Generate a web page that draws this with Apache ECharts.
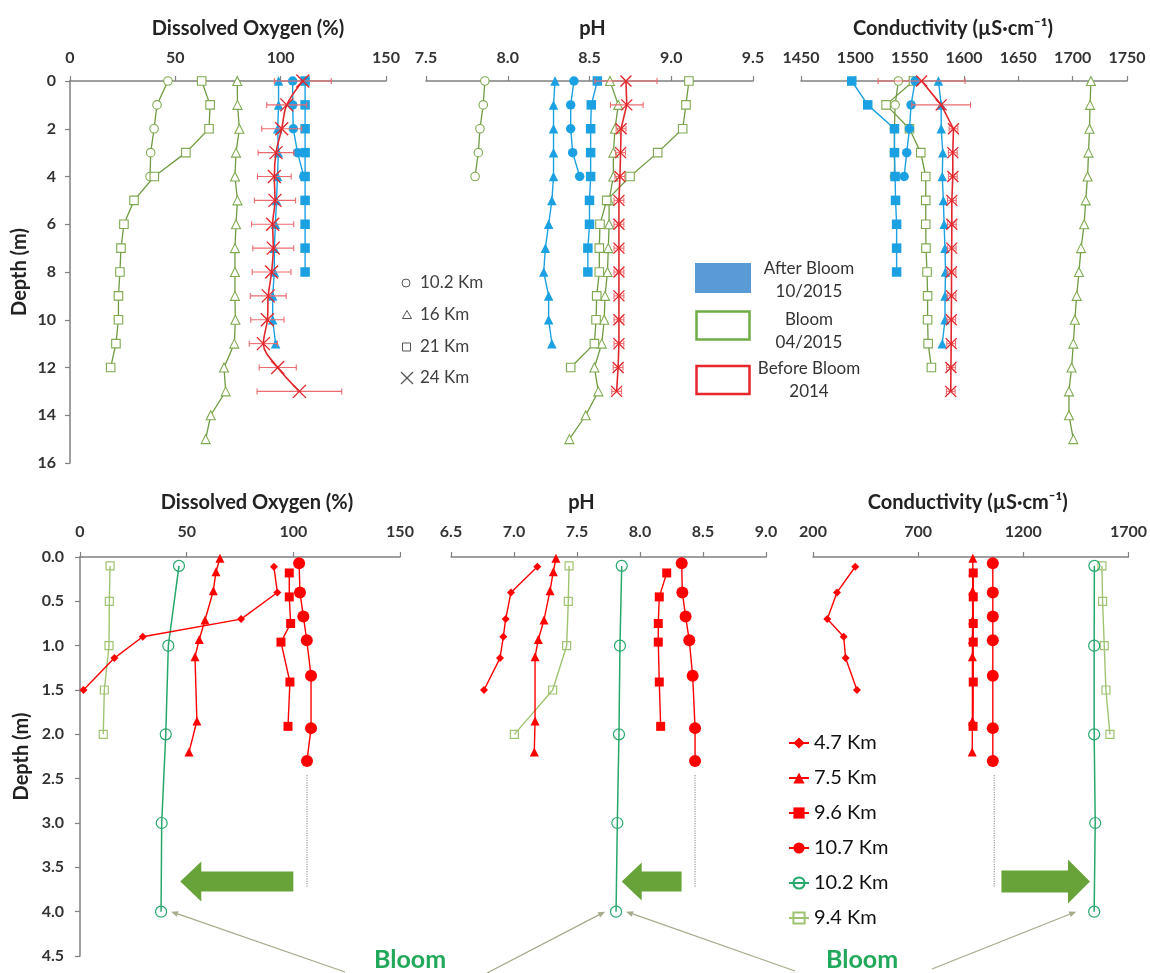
<!DOCTYPE html>
<html><head><meta charset="utf-8">
<script src="https://cdn.jsdelivr.net/npm/echarts@6/dist/echarts.min.js"></script>
<style>html,body{margin:0;padding:0;background:#fff}#c{width:1150px;height:973px}</style>
</head><body><div id="c"></div><script>
// ---------- DATA ----------
const topDepth = [0,1,2,3,4,5,6,7,8,9,10,11,12,13,14,15];
const topDepthTicks = [0,2,4,6,8,10,12,14,16];
// Top: Dissolved Oxygen (%)
const doBloom10 = [46.5, 41.3, 39.9, 38.3, 38.0];
const doBloom16 = [79.4, 79.5, 80.4, 78.8, 78.3, 79.5, 78.8, 78.3, 78.3, 78.3, 78.5, 78.0, 73.1, 73.9, 66.8, 64.4];
const doBloom21 = [62.5, 66.5, 66.0, 55.0, 40.0, 30.4, 25.6, 24.2, 23.7, 23.0, 23.0, 21.8, 19.3];
const doAfter10 = [105.7, 105.7, 106.0, 108.0, 111.0];
const doAfter16 = [99.0, 99.0, 98.6, 98.9, 98.5, 98.0, 97.5, 97.0, 97.0, 96.2, 96.2, 97.6];
const doAfter21 = [111.6, 111.6, 111.6, 111.6, 111.6, 111.6, 111.6, 111.6, 111.6];
const doBefore24 = [110.5, 102.9, 100.5, 97.8, 97.0, 97.3, 96.2, 96.5, 95.7, 94.1, 93.7, 91.8, 98.6, 108.9];
const doBefore24Err = [13.5, 9.5, 9.5, 8.5, 8.0, 9.8, 10.0, 9.7, 9.2, 8.5, 7.9, 6.7, 8.8, 20.1];
// Top: pH
const phBloom10 = [7.86, 7.85, 7.83, 7.82, 7.80];
const phBloom16 = [8.625, 8.676, 8.656, 8.646, 8.646, 8.62, 8.62, 8.615, 8.61, 8.595, 8.59, 8.575, 8.53, 8.554, 8.477, 8.377];
const phBloom21 = [9.108, 9.09, 9.07, 8.917, 8.748, 8.605, 8.564, 8.56, 8.56, 8.544, 8.54, 8.53, 8.385];
const phAfter10 = [8.405, 8.385, 8.385, 8.397, 8.44];
const phAfter16 = [8.289, 8.28, 8.28, 8.28, 8.28, 8.27, 8.25, 8.23, 8.22, 8.25, 8.25, 8.27];
const phAfter21 = [8.548, 8.511, 8.507, 8.507, 8.507, 8.50, 8.50, 8.49, 8.49];
const phBefore24 = [8.723, 8.728, 8.693, 8.69, 8.686, 8.68, 8.68, 8.68, 8.68, 8.68, 8.68, 8.68, 8.675, 8.666];
const phBefore24Err = [0.19, 0.10, 0.03, 0.03, 0.03, 0.03, 0.03, 0.03, 0.03, 0.03, 0.03, 0.03, 0.03, 0.03];
// Top: Conductivity
const cdBloom10 = [1539.6, 1536.6, 1536, 1536, 1536];
const cdBloom16 = [1716.8, 1716, 1715.5, 1714.6, 1713.7, 1712, 1710.6, 1707.7, 1705.8, 1703.7, 1702, 1700.6, 1699, 1696.6, 1696.6, 1700.6];
const cdBloom21 = [1553.5, 1528.3, 1549.8, 1560.2, 1564.8, 1564.8, 1564.8, 1565, 1566, 1566.5, 1566.5, 1567, 1570];
const cdAfter10 = [1555, 1551.3, 1549.8, 1547.3, 1544.9];
const cdAfter16 = [1576.5, 1579, 1579, 1580.5, 1580, 1581, 1581.7, 1582.5, 1583, 1582.5, 1582.5, 1580];
const cdAfter21 = [1496.7, 1511.4, 1536, 1536, 1536.6, 1537, 1538, 1538, 1538];
const cdBefore24 = [1561, 1579, 1590.3, 1589.7, 1589.7, 1588.8, 1588.8, 1588.7, 1588.5, 1588.5, 1588.3, 1588.2, 1588, 1587.8];
const cdBefore24Err = [40, 27, 4, 4, 4, 4, 4, 4, 4, 4, 4, 4, 4, 4];
// Bottom profiles: depths per station
const dep47 = [0.11, 0.40, 0.70, 0.90, 1.14, 1.50];
const dep75 = [0.015, 0.166, 0.38, 0.71, 0.93, 1.125, 1.85, 2.2];
const dep96 = [0.18, 0.45, 0.75, 0.96, 1.41, 1.91];
const dep107 = [0.07, 0.40, 0.67, 0.94, 1.34, 1.93, 2.30];
const dep102 = [0.1, 1, 2, 3, 4];
const dep94 = [0.1, 0.5, 1.0, 1.5, 2.0];
const do47 = [90.9, 92.5, 75.5, 29.4, 16.1, 1.6];
const do75 = [65.6, 63.75, 62.5, 58.6, 55.9, 53.9, 54.8, 51.1];
const do96 = [98.1, 98.1, 98.75, 94.2, 98.4, 97.5];
const do107 = [102.7, 103.1, 104.7, 106.3, 108.3, 108.3, 106.4];
const do102 = [46.4, 41.4, 40.2, 38.3, 38.0];
const do94 = [14.1, 13.75, 13.6, 11.4, 10.9];
const ph47 = [7.185, 6.976, 6.934, 6.915, 6.889, 6.762];
const ph75 = [7.333, 7.312, 7.286, 7.238, 7.193, 7.167, 7.167, 7.161];
const ph96 = [8.212, 8.153, 8.145, 8.145, 8.153, 8.164];
const ph107 = [8.331, 8.336, 8.362, 8.391, 8.418, 8.437, 8.437];
const ph102 = [7.855, 7.841, 7.833, 7.82, 7.81];
const ph94 = [7.437, 7.431, 7.418, 7.307, 7.003];
const cd47 = [401, 314, 268, 346, 355, 409];
const cd75 = [960, 960, 959, 959, 958, 958, 958, 957];
const cd96 = [962, 962, 962, 962, 962, 961];
const cd107 = [1055, 1055, 1055, 1055, 1055, 1055, 1055];
const cd102 = [1538, 1537, 1537, 1542, 1537];
const cd94 = [1574, 1577, 1585, 1593, 1612];
// dotted guide lines (bottom panels)
const dotDepth = [2.46, 3.72];
const dotX = [106.4, 8.437, 1062];
// green arrows (bottom panels): [tail, tip] in data units, depth
const arrowDO = [100, 47];
const arrowPH = [8.33, 7.855];
const arrowCD = [1096, 1517];
const arrowDepth = 3.66;
const condTicksBottom = [200, 700, 1200, 1700];
const bottomLegend = ['4.7 Km', '7.5 Km', '9.6 Km', '10.7 Km', '10.2 Km', '9.4 Km'];

// ---------- STYLE ----------
const FONT = 'Lato, "Open Sans", sans-serif';
const BLUE = '#1ba1e2', GREEN = '#6f9c42', GREENM = '#7faa50', RED = '#e3262b', REDERR = '#ee6a6e';
const BRED = '#ff0000', BGREEN = '#26a86b', BLGREEN = '#9fc471';
const AXC = '#808080';

const grids = [
  {left: 70, top: 81, width: 316, height: 382},
  {left: 426, top: 81, width: 327, height: 382},
  {left: 801, top: 81, width: 326, height: 382},
  {left: 80, top: 557, width: 320, height: 399},
  {left: 451, top: 557, width: 315, height: 399},
  {left: 813, top: 557, width: 316, height: 399}
];

function xAx(i, name, min, max, interval, fmt, gap, pad, extraLabel, extraTick) {
  return {
    gridIndex: i, type: 'value', position: 'top', min, max, interval,
    name, nameLocation: 'middle', nameGap: gap,
    nameTextStyle: {fontFamily: FONT, fontWeight: 'bold', fontSize: 20, color: '#222', padding: pad},
    axisLine: {show: true, onZero: false, lineStyle: {color: AXC, width: 1.5}},
    axisTick: Object.assign({show: true, length: 5, lineStyle: {color: AXC, width: 1.2}}, extraTick || {}),
    axisLabel: Object.assign({fontFamily: FONT, fontWeight: 'bold', fontSize: 16, color: '#333', margin: i < 3 ? 15 : 17, formatter: fmt}, extraLabel || {}),
    splitLine: {show: false}
  };
}
function yAx(i, max, interval, show, fmt, gap, margin) {
  return {
    gridIndex: i, type: 'value', inverse: true, min: 0, max, interval, show,
    name: show ? 'Depth (m)' : '', nameLocation: 'middle', nameGap: gap, nameRotate: 90,
    nameTextStyle: {fontFamily: FONT, fontWeight: 'bold', fontSize: 20, color: '#222'},
    axisLine: {show: true, onZero: false, lineStyle: {color: AXC, width: 1.5}},
    axisTick: {show: true, length: 5, lineStyle: {color: AXC, width: 1.2}},
    axisLabel: {fontFamily: FONT, fontWeight: 'bold', fontSize: 16, color: '#333', margin, formatter: fmt},
    splitLine: {show: false}
  };
}
const f0 = v => String(v);
const f1 = v => v.toFixed(1);

function ln(name, gi, xs, ys, o) {
  return {
    type: 'line', name, xAxisIndex: gi, yAxisIndex: gi, silent: true, animation: false,
    data: xs.map((v, k) => [v, ys[k]]),
    symbol: o.symbol || 'none', symbolSize: o.size || 8, showSymbol: !!o.symbol,
    smooth: o.smooth || false,
    lineStyle: {color: o.line, width: o.lw || 1.3, type: o.type || 'solid'},
    itemStyle: {color: o.fill || o.line, borderColor: o.border || o.line, borderWidth: o.bw || 0},
    z: o.z || 2
  };
}
function errSeries(gi, xs, errs, s) {
  return {
    type: 'custom', name: 'err' + gi, xAxisIndex: gi, yAxisIndex: gi, silent: true, animation: false, z: 5,
    data: xs.map((v, k) => [v, topDepth[k], errs[k]]),
    encode: {x: 0, y: 1},
    renderItem: (params, api) => {
      const x = api.value(0), y = api.value(1), e = api.value(2);
      const c = api.coord([x, y]), l = api.coord([x - e, y]), r = api.coord([x + e, y]);
      const st = {stroke: REDERR, lineWidth: 1.1};
      const mk = {stroke: RED, lineWidth: 1.4};
      return {type: 'group', children: [
        {type: 'line', shape: {x1: l[0], y1: c[1], x2: r[0], y2: c[1]}, style: st},
        {type: 'line', shape: {x1: l[0], y1: c[1] - 3, x2: l[0], y2: c[1] + 3}, style: st},
        {type: 'line', shape: {x1: r[0], y1: c[1] - 3, x2: r[0], y2: c[1] + 3}, style: st},
        {type: 'line', shape: {x1: c[0] - s, y1: c[1] - s, x2: c[0] + s, y2: c[1] + s}, style: mk},
        {type: 'line', shape: {x1: c[0] - s, y1: c[1] + s, x2: c[0] + s, y2: c[1] - s}, style: mk}
      ]};
    }
  };
}
const td = n => topDepth.slice(0, n);

function topSeries(gi, b10, b16, b21, a10, a16, a21, r24, r24e, smoothRed, xs) {
  const hollow = {fill: '#fff', border: GREENM, bw: 1.1, line: GREEN};
  return [
    ln('B10-' + gi, gi, b10, td(b10.length), Object.assign({symbol: 'circle', size: 8.5}, hollow)),
    ln('B16-' + gi, gi, b16, td(b16.length), Object.assign({symbol: 'triangle', size: 9}, hollow)),
    ln('B21-' + gi, gi, b21, td(b21.length), Object.assign({symbol: 'rect', size: 8.5}, hollow)),
    ln('A10-' + gi, gi, a10, td(a10.length), {symbol: 'circle', size: 9.5, line: BLUE, lw: 1.4, z: 3}),
    ln('A16-' + gi, gi, a16, td(a16.length), {symbol: 'triangle', size: 9.5, line: BLUE, lw: 1.4, z: 3}),
    ln('A21-' + gi, gi, a21, td(a21.length), {symbol: 'rect', size: 9.5, line: BLUE, lw: 1.4, z: 3}),
    ln('R24-' + gi, gi, r24, td(r24.length), {line: RED, lw: 1.6, smooth: smoothRed, z: 4}),
    errSeries(gi, r24, r24e, xs)
  ];
}
function bottomSeries(gi, v47, v75, v96, v107, v102, v94, dx) {
  return [
    ln('9.4 Km', gi, v94, dep94, {symbol: 'rect', size: 8, fill: 'rgba(255,255,255,0)', border: BLGREEN, bw: 1.2, line: BLGREEN, lw: 1.4}),
    ln('10.2 Km', gi, v102, dep102, {symbol: 'circle', size: 11, fill: 'rgba(255,255,255,0)', border: BGREEN, bw: 1.2, line: BGREEN, lw: 1.5}),
    ln('4.7 Km', gi, v47, dep47, {symbol: 'diamond', size: 8, line: BRED, lw: 1.4, z: 3}),
    ln('7.5 Km', gi, v75, dep75, {symbol: 'triangle', size: 9, line: BRED, lw: 1.4, z: 3}),
    ln('9.6 Km', gi, v96, dep96, {symbol: 'rect', size: 9, line: BRED, lw: 1.4, z: 3}),
    ln('10.7 Km', gi, v107, dep107, {symbol: 'circle', size: 12, line: BRED, lw: 1.4, z: 3}),
    ln('dot' + gi, gi, [dx, dx], dotDepth, {line: '#9a9a9a', lw: 1.2, type: 'dotted'})
  ];
}

const series = [].concat(
  topSeries(0, doBloom10, doBloom16, doBloom21, doAfter10, doAfter16, doAfter21, doBefore24, doBefore24Err, 0.35, 6.5),
  topSeries(1, phBloom10, phBloom16, phBloom21, phAfter10, phAfter16, phAfter21, phBefore24, phBefore24Err, false, 5.5),
  topSeries(2, cdBloom10, cdBloom16, cdBloom21, cdAfter10, cdAfter16, cdAfter21, cdBefore24, cdBefore24Err, false, 5.5),
  bottomSeries(3, do47, do75, do96, do107, do102, do94, dotX[0]),
  bottomSeries(4, ph47, ph75, ph96, ph107, ph102, ph94, dotX[1]),
  bottomSeries(5, cd47, cd75, cd96, cd107, cd102, cd94, dotX[2])
);

const option = {
  backgroundColor: '#fff',
  animation: false,
  grid: grids,
  xAxis: [
    xAx(0, 'Dissolved Oxygen (%)', 0, 150, 50, f0, 42, [0, 0, 0, 40]),
    xAx(1, 'pH', 7.5, 9.5, 0.5, f1, 42, [0, 0, 0, 6]),
    xAx(2, 'Conductivity (µS·cm⁻¹)', 1450, 1750, 50, f0, 42, [0, 22, 0, 0]),
    xAx(3, 'Dissolved Oxygen (%)', 0, 150, 50, f0, 44, [0, 0, 0, 34]),
    xAx(4, 'pH', 6.5, 9.0, 0.5, f1, 44, [0, 54, 0, 0]),
    xAx(5, 'Conductivity (µS·cm⁻¹)', 200, 1700, null, f0, 44, [0, 6, 0, 0],
        {customValues: condTicksBottom}, {customValues: condTicksBottom})
  ],
  yAxis: [
    yAx(0, 16, 2, true, f0, 40, 14),
    yAx(1, 16, 2, false, f0, 40, 14),
    yAx(2, 16, 2, false, f0, 40, 14),
    yAx(3, 4.5, 0.5, true, f1, 48, 16),
    yAx(4, 4.5, 0.5, false, f1, 40, 16),
    yAx(5, 4.5, 0.5, false, f1, 40, 16)
  ],
  legend: {
    data: bottomLegend, orient: 'vertical', left: 783, top: 728,
    itemWidth: 20, itemHeight: 14, itemGap: 15, selectedMode: false,
    textStyle: {fontFamily: FONT, fontSize: 20, color: '#111'}
  },
  series
};
const xa = option.xAxis[5]; delete xa.interval;

const chart = echarts.init(document.getElementById('c'), null, {renderer: 'canvas'});
chart.setOption(option);

// ---------- ANNOTATIONS ----------
const P = (gi, x, y) => chart.convertToPixel({xAxisIndex: gi, yAxisIndex: gi}, [x, y]);
function bigArrow(id, gi, tail, tip, bh, hh, hl) {
  const a = P(gi, tail, arrowDepth), b = P(gi, tip, arrowDepth);
  const cy = a[1], t = a[0], p = b[0], d = p < t ? 1 : -1;
  const hb = p + d * hl;
  return {type: 'polygon', id, silent: true, z: 10,
    shape: {points: [[t, cy - bh], [hb, cy - bh], [hb, cy - hh], [p, cy], [hb, cy + hh], [hb, cy + bh], [t, cy + bh]]},
    style: {fill: '#68a33a'}};
}
function pointer(id, sx, sy, ex, ey) {
  const ang = Math.atan2(ey - sy, ex - sx), L = 7, W = 3;
  const bx = ex - L * Math.cos(ang), by = ey - L * Math.sin(ang);
  const nx = -Math.sin(ang) * W, ny = Math.cos(ang) * W;
  return [
    {type: 'line', id: id + 'l', silent: true, z: 9, shape: {x1: sx, y1: sy, x2: bx, y2: by}, style: {stroke: '#a7ab8c', lineWidth: 1.3}},
    {type: 'polygon', id: id + 'h', silent: true, z: 9, shape: {points: [[ex, ey], [bx + nx, by + ny], [bx - nx, by - ny]]}, style: {fill: '#a7ab8c'}}
  ];
}
const cDO = P(3, do102[4], dep102[4]);
const cPH = P(4, ph102[4], dep102[4]);
const cCD = P(5, cd102[4], dep102[4]);

const TXT = {fontFamily: FONT, fontSize: 17, fill: '#404040'};
const graphics = [
  bigArrow('arDO', 3, arrowDO[0], arrowDO[1], 10, 20, 21),
  bigArrow('arPH', 4, arrowPH[0], arrowPH[1], 10, 19, 20),
  bigArrow('arCD', 5, arrowCD[0], arrowCD[1], 11, 22, 22),
  ...pointer('p1', 345, 972, cDO[0] + 10, cDO[1]),
  ...pointer('p2', 487, 973, cPH[0] - 11, cPH[1]),
  ...pointer('p3', 795, 971, cPH[0] + 10, cPH[1]),
  ...pointer('p4', 932, 969, cCD[0] - 18, cCD[1]),
  {type: 'text', id: 'bl1', silent: true, x: 410, y: 960, style: {text: 'Bloom', fontFamily: FONT, fontWeight: 'bold', fontSize: 25, fill: '#21a85a', align: 'center', verticalAlign: 'middle'}},
  {type: 'text', id: 'bl2', silent: true, x: 862, y: 960, style: {text: 'Bloom', fontFamily: FONT, fontWeight: 'bold', fontSize: 25, fill: '#21a85a', align: 'center', verticalAlign: 'middle'}},
  // station symbol legend (top)
  {type: 'circle', id: 'ls1', silent: true, shape: {cx: 406, cy: 283, r: 4}, style: {fill: 'none', stroke: '#555', lineWidth: 1}},
  {type: 'polygon', id: 'ls2', silent: true, shape: {points: [[407, 310.5], [411.5, 318.5], [402.5, 318.5]]}, style: {fill: 'none', stroke: '#555', lineWidth: 1}},
  {type: 'rect', id: 'ls3', silent: true, shape: {x: 402.5, y: 343, width: 8, height: 8}, style: {fill: 'none', stroke: '#555', lineWidth: 1}},
  {type: 'line', id: 'ls4a', silent: true, shape: {x1: 401, y1: 372, x2: 413, y2: 384}, style: {stroke: '#555', lineWidth: 1.2}},
  {type: 'line', id: 'ls4b', silent: true, shape: {x1: 401, y1: 384, x2: 413, y2: 372}, style: {stroke: '#555', lineWidth: 1.2}},
  {type: 'text', id: 'lt1', silent: true, x: 420, y: 283, style: Object.assign({text: '10.2 Km', verticalAlign: 'middle'}, TXT)},
  {type: 'text', id: 'lt2', silent: true, x: 420, y: 315, style: Object.assign({text: '16 Km', verticalAlign: 'middle'}, TXT)},
  {type: 'text', id: 'lt3', silent: true, x: 420, y: 347, style: Object.assign({text: '21 Km', verticalAlign: 'middle'}, TXT)},
  {type: 'text', id: 'lt4', silent: true, x: 420, y: 378, style: Object.assign({text: '24 Km', verticalAlign: 'middle'}, TXT)},
  // period legend (top)
  {type: 'rect', id: 'pr1', silent: true, shape: {x: 695, y: 263, width: 56, height: 30}, style: {fill: '#5b9bd5'}},
  {type: 'rect', id: 'pr2', silent: true, shape: {x: 696.5, y: 311.5, width: 53, height: 28}, style: {fill: '#fff', stroke: '#70ad47', lineWidth: 2.5}},
  {type: 'rect', id: 'pr3', silent: true, shape: {x: 696.5, y: 366, width: 53, height: 28}, style: {fill: '#fff', stroke: '#e8262d', lineWidth: 2.5}},
  {type: 'text', id: 'pt1', silent: true, x: 809, y: 280, style: {text: 'After Bloom\n10/2015', fontFamily: FONT, fontSize: 17, lineHeight: 23.5, fill: '#333', align: 'center', verticalAlign: 'middle'}},
  {type: 'text', id: 'pt2', silent: true, x: 809, y: 331, style: {text: 'Bloom\n04/2015', fontFamily: FONT, fontSize: 17, lineHeight: 23.5, fill: '#333', align: 'center', verticalAlign: 'middle'}},
  {type: 'text', id: 'pt3', silent: true, x: 809, y: 380, style: {text: 'Before Bloom\n2014', fontFamily: FONT, fontSize: 17, lineHeight: 23.5, fill: '#333', align: 'center', verticalAlign: 'middle'}}
];
chart.setOption({graphic: graphics});
</script></body></html>
